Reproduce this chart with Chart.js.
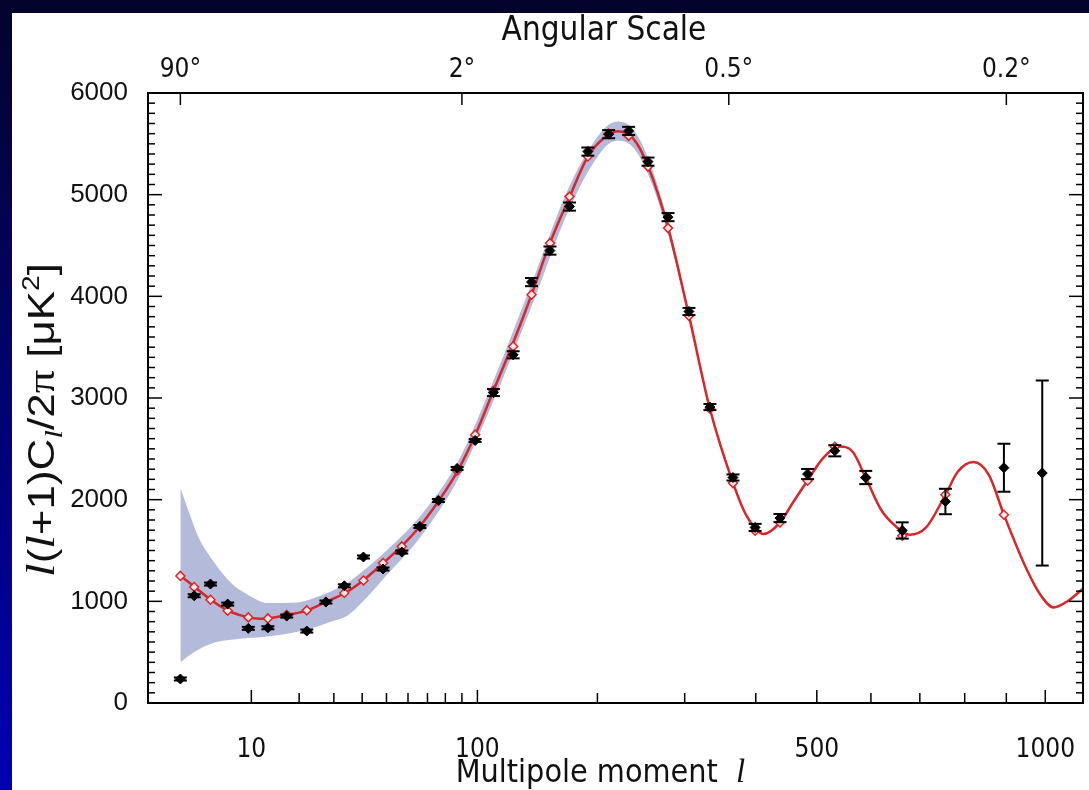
<!DOCTYPE html>
<html lang="en">
<head>
<meta charset="UTF-8" />
<title>CMB Angular Power Spectrum</title>
<script src="https://cdn.jsdelivr.net/npm/chart.js"></script>
<style>
  html, body { margin: 0; padding: 0; }
  body { width: 1089px; height: 790px; overflow: hidden; background: linear-gradient(#03032c, #0000b4); position: relative; }
  .panel { position: absolute; left: 12px; top: 13px; right: 0; bottom: 0; background: #fff; }
  .wrap { position: absolute; left: 0; top: 0; width: 1089px; height: 790px; }
</style>
</head>
<body>
<div class="panel"></div>
<div class="wrap"><canvas id="cl"></canvas></div>
<script>
// ---- data ----
// binned measurements (multipole, value, half error)
const dataL = [2, 3, 4.5, 6.5, 9.5, 13, 17, 22, 27.5, 33.5, 40.5, 48.5, 57, 66, 76, 87, 98.5, 111, 125.5, 140,
  155.5, 173, 190.5, 211.5, 233, 255, 279, 305.5, 333.5, 366, 399, 438, 484, 532, 590, 663, 756, 894, 992];
const dataVals = [236, 1055, 1170, 973, 734, 740, 855, 708, 993, 1153, 1436, 1318, 1485, 1736, 1992, 2307, 2582, 3054, 3425, 4140,
  4450, 4883, 5424, 5595, 5627, 5325, 4779, 3851, 2911, 2218, 1727, 1819, 2252, 2481, 2218, 1697, 1982, 2314, 2262];
const dataErr = [15, 15, 15, 15, 15, 15, 15, 15, 15, 15, 15, 15, 15, 15, 15, 15, 15, 35, 35, 40,
  40, 40, 40, 40, 40, 40, 40, 35, 30, 30, 35, 40, 50, 55, 65, 80, 125, 236, 910];
// model averaged in the same bins (open red diamonds)
const binnedVals = [1250, 1141, 1016, 908, 842, 832, 868, 911, 996, 1082, 1205, 1377, 1540, 1734, 1990, 2285, 2638, 3071, 3506, 4015,
  4523, 4981, 5375, 5600, 5578, 5276, 4671, 3808, 2894, 2163, 1694, 1776, 2186, 2520, 2215, 1645, 2048, 1852, null];
// best fit model curve
const curveL = [2, 3.05, 4.53, 6.53, 9.58, 11.5, 13.1, 17.2, 22.2, 27.6, 33.7, 40.4, 48.6, 56.8, 65.8, 76.2, 87.4, 98.6, 111, 124.4,
  140, 155.4, 173.2, 190.5, 207, 221, 237.5, 255.3, 279.2, 305.6, 333.5, 366.2, 386.8, 412, 438.3, 459, 483.7, 510, 540, 565,
  590, 620, 650, 678, 713, 756, 784, 820, 857, 894, 948, 987, 1022, 1062, 1106];
const curveVals = [1252, 1141, 1016, 908, 842, 829, 832, 868, 911, 996, 1082, 1206, 1377, 1540, 1734, 1989, 2284, 2638, 3071, 3506,
  4015, 4523, 4981, 5375, 5559, 5623, 5559, 5276, 4671, 3808, 2894, 2163, 1832, 1662, 1776, 1970, 2186, 2402, 2523, 2471,
  2215, 1901, 1736, 1655, 1724, 2048, 2274, 2370, 2245, 1852, 1343, 1065, 940, 1006, 1134];
// cosmic variance band
const bandL = [2, 2.53, 3.33, 4.95, 6.96, 9.43, 12.96, 19.6, 24, 29, 34.5, 40.4, 48.6, 65.8, 87.4, 111, 140, 173.2, 207, 221,
  237.5, 255.3, 279.2, 305.6, 333.5, 366.2];
const bandLow = [399, 460, 525, 596, 622, 639, 655, 701, 743, 799, 858, 1000, 1220, 1620, 2195, 2970, 3900, 4870, 5460, 5530,
  5470, 5195, 4610, 3770, 2870, 2148];
const bandHigh = [2114, 1901, 1638, 1377, 1180, 1065, 983, 989, 1032, 1097, 1180, 1300, 1470, 1830, 2370, 3170, 4125, 5090, 5650, 5720,
  5650, 5355, 4730, 3845, 2918, 2178];
// axes
const xTicks = [10, 20, 30, 40, 50, 60, 70, 80, 90, 100, 200, 300, 400, 500, 600, 700, 800, 900, 1000];
const xLabeled = [10, 100, 500, 1000];
const angTicks = [2, 90, 360, 900];
const angLabels = ['90°', '2°', '0.5°', '0.2°'];
const yTicks = [0, 1000, 2000, 3000, 4000, 5000, 6000];

const XP = 0.4;           // the multipole axis runs as l^0.4
const X_MIN = 0.53, X_MAX = 1103;

class PowScale extends Chart.LinearScale {
  static id = 'pow';
  getPixelForValue(v) {
    const a = Math.pow(this.min, XP), b = Math.pow(this.max, XP);
    return this.getPixelForDecimal((Math.pow(v, XP) - a) / (b - a));
  }
  getValueForPixel(p) {
    const a = Math.pow(this.min, XP), b = Math.pow(this.max, XP);
    return Math.pow(a + this.getDecimalForPixel(p) * (b - a), 1 / XP);
  }
}
Chart.register(PowScale);

const NARROW = '"DejaVu Sans Condensed", "Liberation Sans Narrow", Arial, sans-serif';
const SANS = '"Liberation Sans", Arial, sans-serif';
const SERIF = '"Liberation Serif", "Times New Roman", serif';

const pts = (xs, ys) => xs.map((x, i) => ({ x: x, y: ys[i] }));

function line(ctx, x1, y1, x2, y2) {
  ctx.beginPath(); ctx.moveTo(x1, y1); ctx.lineTo(x2, y2); ctx.stroke();
}

// no extra side padding: the plot runs to the picture's right edge
function fitX(h) {
  return s => { s.height = h; s.paddingLeft = 0; s.paddingRight = 0; };
}

const errorBars = {
  id: 'errorBars',
  beforeDatasetDraw(chart, args) {
    if (args.index !== 4) return;
    const { ctx, scales: { x, y } } = chart;
    ctx.save();
    ctx.strokeStyle = '#000';
    ctx.lineWidth = 2;
    dataL.forEach((l, i) => {
      const px = x.getPixelForValue(l);
      const hi = y.getPixelForValue(dataVals[i] + dataErr[i]);
      const lo = y.getPixelForValue(dataVals[i] - dataErr[i]);
      line(ctx, px, hi, px, lo);
      line(ctx, px - 6.5, hi, px + 6.5, hi);
      line(ctx, px - 6.5, lo, px + 6.5, lo);
    });
    ctx.restore();
  }
};

const frame = {
  id: 'frame',
  afterDraw(chart) {
    const { ctx, chartArea: a, scales } = chart;
    ctx.save();
    ctx.strokeStyle = '#000';
    ctx.lineWidth = 2;
    ctx.strokeRect(a.left, a.top, a.right - a.left, a.bottom - a.top);
    ctx.lineWidth = 1.5;
    scales.x.ticks.forEach(t => {
      const px = scales.x.getPixelForValue(t.value);
      line(ctx, px, a.bottom, px, a.bottom - (xLabeled.includes(t.value) ? 13 : 10));
    });
    scales.xTop.ticks.forEach(t => {
      const px = scales.xTop.getPixelForValue(t.value);
      line(ctx, px, a.top, px, a.top + 12);
    });
    for (let v = 0; v <= 6000; v += 100) {
      const py = scales.y.getPixelForValue(v);
      const len = v % 1000 === 0 ? 14 : 7;
      line(ctx, a.left, py, a.left + len, py);
      line(ctx, a.right, py, a.right - len, py);
    }

    ctx.fillStyle = '#111';
    ctx.textBaseline = 'alphabetic';
    ctx.textAlign = 'center';
    ctx.font = '33px ' + NARROW;
    ctx.fillText('Angular Scale', 604, 40);

    // x title with italic l
    ctx.textAlign = 'left';
    const cx = (a.left + a.right) / 2 - 15;
    const f1 = '32px ' + NARROW, f2 = 'italic 33px ' + SERIF;
    ctx.font = f1; const w1 = ctx.measureText('Multipole moment  ').width;
    ctx.font = f2; const w2 = ctx.measureText('l').width;
    const sx = cx - (w1 + w2) / 2;
    ctx.font = f1; ctx.fillText('Multipole moment  ', sx, 782);
    ctx.font = f2; ctx.fillText('l', sx + w1, 782);

    // y title
    const parts = [
      ['l', 'italic 40px ' + SERIF, 0],
      ['(', '36px ' + SANS, 0],
      ['l', 'italic 40px ' + SERIF, 0],
      ['+1)C', '36px ' + SANS, 0],
      ['l', 'italic 26px ' + SERIF, 8],
      ['/2', '36px ' + SANS, 0],
      ['π', '38px ' + SERIF, 0],
      [' [μK', '36px ' + SANS, 0],
      ['2', '23px ' + SANS, -15],
      [']', '36px ' + SANS, 0]
    ];
    let total = 0;
    parts.forEach(p => { ctx.font = p[1]; p.push(ctx.measureText(p[0]).width); total += p[3]; });
    ctx.translate(54, 420);
    ctx.rotate(-Math.PI / 2);
    ctx.scale(1.22, 1);
    let px = -total / 2;
    parts.forEach(p => { ctx.font = p[1]; ctx.fillText(p[0], px, p[2]); px += p[3]; });
    ctx.restore();
  }
};

new Chart(document.getElementById('cl'), {
  type: 'line',
  data: {
    datasets: [
      { label: 'band low', data: pts(bandL, bandLow), borderWidth: 0, pointRadius: 0, fill: false,
        cubicInterpolationMode: 'monotone', order: 5 },
      { label: 'band high', data: pts(bandL, bandHigh), borderWidth: 0, pointRadius: 0, fill: '-1',
        cubicInterpolationMode: 'monotone', backgroundColor: '#b4bbda', order: 4 },
      { label: 'model', data: pts(curveL, curveVals), borderColor: '#d8262a', borderWidth: 2.5, pointRadius: 0,
        cubicInterpolationMode: 'monotone', fill: false, order: 2 },
      { label: 'model binned', data: pts(dataL, binnedVals), showLine: false, pointStyle: 'rectRot', pointRadius: 4.5,
        borderColor: '#e02424', borderWidth: 1.5, backgroundColor: '#fde8e8', order: 1 },
      { label: 'data', data: pts(dataL, dataVals), showLine: false, pointStyle: 'rectRot', pointRadius: 5,
        borderColor: '#000', borderWidth: 1, backgroundColor: '#000', order: 0 }
    ]
  },
  options: {
    responsive: true,
    maintainAspectRatio: false,
    animation: false,
    layout: { padding: { left: 0, right: 1, top: 0, bottom: 0 } },
    plugins: { legend: { display: false }, tooltip: { enabled: false } },
    scales: {
      x: {
        type: 'pow', position: 'bottom', axis: 'x', min: X_MIN, max: X_MAX, bounds: 'data',
        afterBuildTicks: s => { s.ticks = xTicks.map(v => ({ value: v })); },
        afterFit: fitX(87),
        grid: { display: false, drawTicks: false }, border: { display: false },
        ticks: { autoSkip: false, maxRotation: 0, padding: 32, color: '#111',
          font: { family: NARROW, size: 26 },
          callback: v => xLabeled.includes(v) ? String(v) : '' }
      },
      xTop: {
        type: 'pow', position: 'top', axis: 'x', min: X_MIN, max: X_MAX, bounds: 'data',
        afterBuildTicks: s => { s.ticks = angTicks.map(v => ({ value: v })); },
        afterFit: fitX(93),
        grid: { display: false, drawTicks: false }, border: { display: false },
        ticks: { autoSkip: false, maxRotation: 0, padding: 7, color: '#111',
          font: { family: NARROW, size: 26 },
          callback: v => angLabels[angTicks.indexOf(v)] }
      },
      y: {
        type: 'linear', min: 0, max: 6000,
        afterBuildTicks: s => { s.ticks = yTicks.map(v => ({ value: v })); },
        afterFit: s => { s.width = 148; },
        grid: { display: false, drawTicks: false }, border: { display: false },
        ticks: { padding: 20, color: '#111', font: { family: SANS, size: 26 }, callback: v => String(v) }
      }
    }
  },
  plugins: [errorBars, frame]
});
</script>
</body>
</html>
